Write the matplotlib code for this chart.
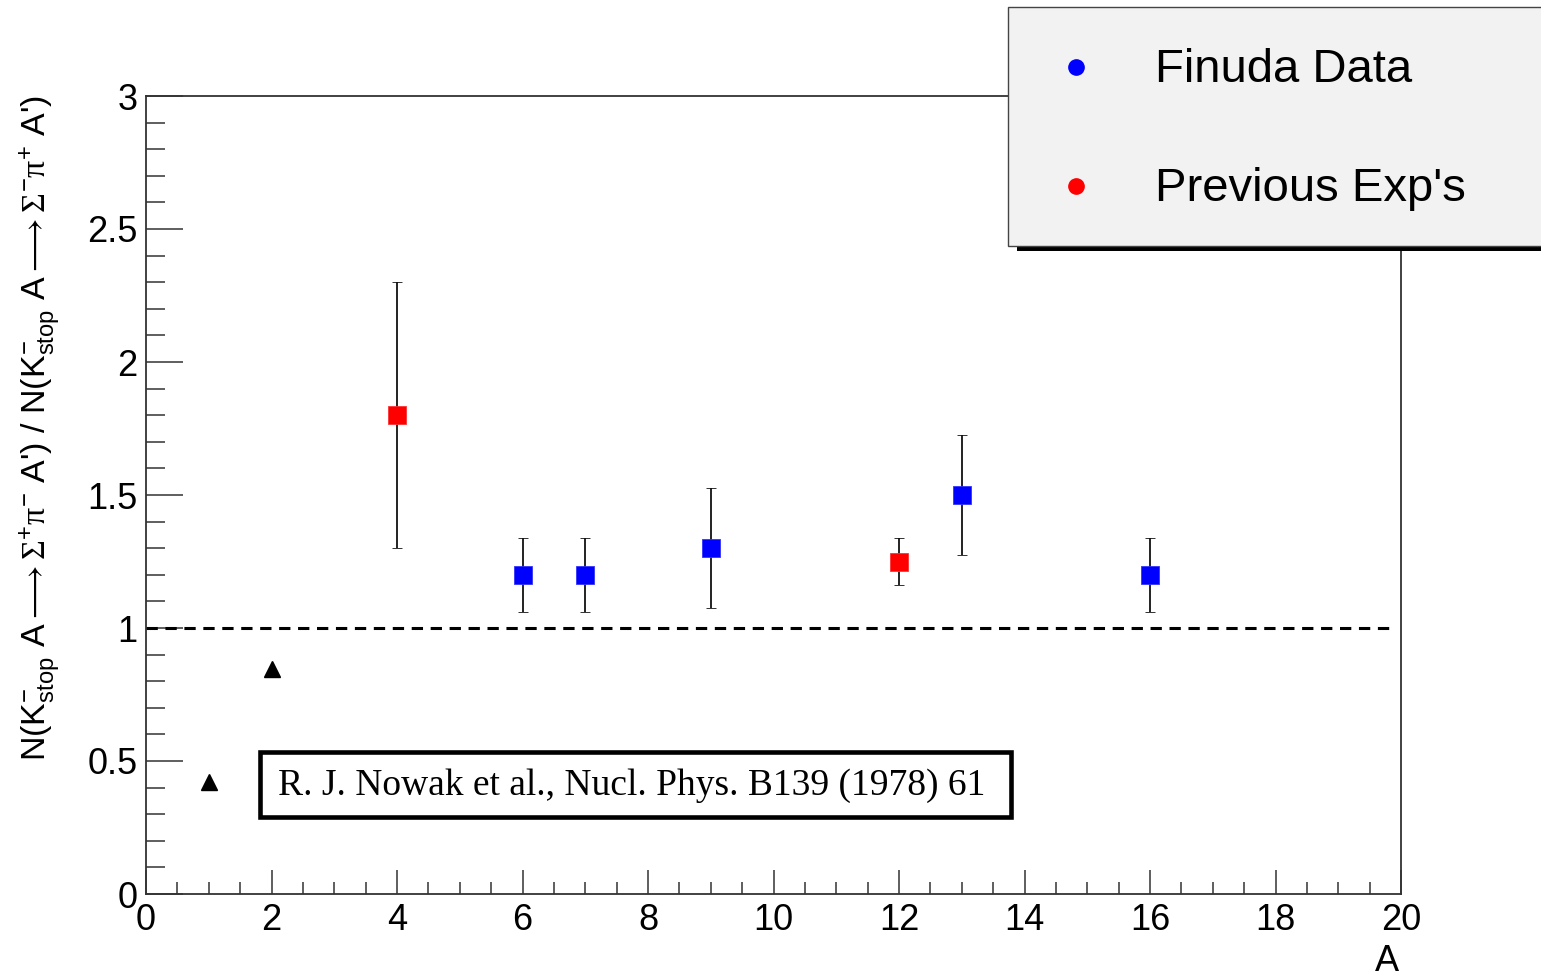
import matplotlib
matplotlib.use("Agg")
import matplotlib.pyplot as plt
from matplotlib.patches import Rectangle
from matplotlib.ticker import MultipleLocator, FuncFormatter
from matplotlib.lines import Line2D

# ---- data ----
finuda_A = [6, 7, 9, 13, 16]
finuda_R = [1.20, 1.20, 1.30, 1.50, 1.20]
finuda_err = [0.14, 0.14, 0.225, 0.225, 0.14]

prev_A = [4, 12]
prev_R = [1.80, 1.25]
prev_err = [0.50, 0.09]

nowak_A = [1, 2]
nowak_R = [0.42, 0.845]

ref_level = 1.0
legend_labels = ["Finuda Data", "Previous Exp's"]
ref_text = "R. J. Nowak et al., Nucl. Phys. B139 (1978) 61"

plt.rcParams['font.family'] = ['Liberation Sans', 'DejaVu Sans']
plt.rcParams['mathtext.fontset'] = 'custom'
plt.rcParams['mathtext.rm'] = 'Liberation Sans'
plt.rcParams['mathtext.it'] = 'Liberation Sans:italic'
plt.rcParams['mathtext.sf'] = 'Liberation Sans'
plt.rcParams['mathtext.tt'] = 'Liberation Serif'
plt.rcParams['mathtext.fallback'] = 'stix'

W, H = 1541, 976
fig = plt.figure(figsize=(W / 100, H / 100), dpi=100)
ax = fig.add_axes([146 / W, 1 - 894 / H, (1401 - 146) / W, (894 - 96) / H])

axis_col = '#333333'
for s in ax.spines.values():
    s.set_color(axis_col)
    s.set_linewidth(1.3)

ax.set_xlim(0, 20)
ax.set_ylim(0, 3)
ax.xaxis.set_major_locator(MultipleLocator(2))
ax.xaxis.set_minor_locator(MultipleLocator(0.5))
ax.yaxis.set_major_locator(MultipleLocator(0.5))
ax.yaxis.set_minor_locator(MultipleLocator(0.1))
ax.xaxis.set_major_formatter(FuncFormatter(lambda v, p: f"{v:g}"))
ax.yaxis.set_major_formatter(FuncFormatter(lambda v, p: f"{v:g}"))
ax.tick_params(axis='x', which='major', direction='in', length=17, width=1.1,
               color=axis_col, labelsize=26, pad=6.5, top=False)
ax.tick_params(axis='x', which='minor', direction='in', length=8.6, width=1.1,
               color=axis_col, top=False)
ax.tick_params(axis='y', which='major', direction='in', length=26.6, width=1.1,
               color=axis_col, labelsize=26, pad=6, right=False)
ax.tick_params(axis='y', which='minor', direction='in', length=13.7, width=1.1,
               color=axis_col, right=False)

# reference dashed line
ax.plot([0, 19.86], [ref_level, ref_level], color='black', lw=2.2,
        dashes=(3.7, 2.5), zorder=2)

# data
ax.errorbar(finuda_A, finuda_R, yerr=finuda_err, fmt='s', color='#0000ff',
            markersize=12.5, markeredgecolor='#3333ff', markeredgewidth=0.6,
            ecolor='#111111', elinewidth=1.3, capsize=3.5, capthick=1.3, zorder=3)
ax.errorbar(prev_A, prev_R, yerr=prev_err, fmt='s', color='#ff0000',
            markersize=12.5, markeredgecolor='#ff3333', markeredgewidth=0.6,
            ecolor='#111111', elinewidth=1.3, capsize=3.5, capthick=1.3, zorder=3)
ax.plot(nowak_A, nowak_R, '^', color='black', markersize=11, zorder=3)

# reference text box
fig.patches.append(Rectangle((260 / W, 1 - 817 / H), (1011 - 260) / W, (817 - 752) / H,
                             transform=fig.transFigure, facecolor='white',
                             edgecolor='black', lw=3.3, zorder=5))
fig.text(632 / W, 1 - 786 / H, ref_text, family='Liberation Serif',
         fontsize=27, ha='center', va='center', zorder=6)

# y label
ylabel = (r"N(K$^{-}_{\mathrm{stop}}$ A$\longrightarrow\mathtt{\Sigma}^{+}\mathtt{\pi}^{-}$ A') / "
          r"N(K$^{-}_{\mathrm{stop}}$ A$\longrightarrow\mathtt{\Sigma}^{-}\mathtt{\pi}^{+}$ A')")
fig.text(40 / W, 1 - 95 / H, ylabel, rotation=90, fontsize=24.5,
         ha='center', va='top')

# x label
fig.text(1399 / W, 5 / H, "A", fontsize=26, ha='right', va='baseline')

# legend box with shadow
fig.patches.append(Rectangle((1017 / W, 1 - 251 / H), (W + 20 - 1017) / W, (251 - 14) / H,
                             transform=fig.transFigure, facecolor='black',
                             edgecolor='none', zorder=7))
fig.patches.append(Rectangle((1008 / W, 1 - 246 / H), (W + 20 - 1008) / W, (246 - 7) / H,
                             transform=fig.transFigure, facecolor='#f2f2f2',
                             edgecolor='#444444', lw=1.0, zorder=8))
leg_colors = ['#0000ff', '#ff0000']
leg_y = [67, 186]
for lab, c, yy in zip(legend_labels, leg_colors, leg_y):
    fig.add_artist(Line2D([1076 / W], [1 - yy / H], marker='o', color=c,
                          markersize=11, linestyle='none',
                          transform=fig.transFigure, zorder=9))
    fig.text(1155 / W, 1 - (yy + 3) / H, lab, fontsize=34, ha='left', va='center',
             zorder=9)

fig.savefig("out.png", dpi=100)
